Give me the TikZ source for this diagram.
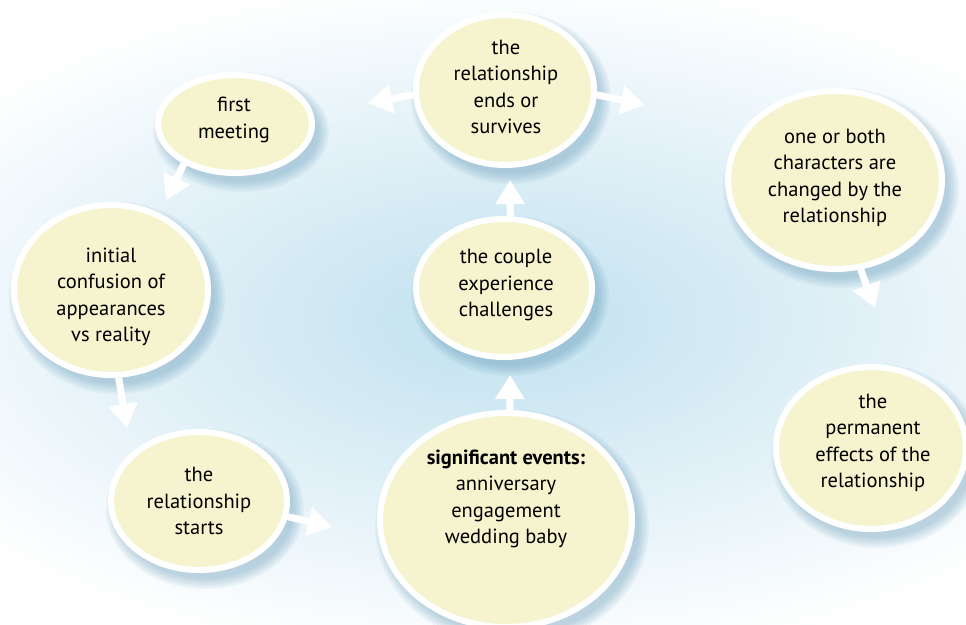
\documentclass[tikz,border=0pt]{standalone}
\usepackage{fontspec}
\setmainfont{PT Sans}
\usetikzlibrary{shapes.geometric,arrows.meta}
\definecolor{bgblue}{RGB}{192,225,239}
\definecolor{eyellow}{RGB}{245,244,206}
\definecolor{shblue}{RGB}{80,140,175}
\tikzset{
  bubble/.style={ellipse, draw=white, line width=6pt, fill=eyellow, inner sep=0pt},
  lbl/.style={align=center, font=\fontsize{20.5}{26.5}\selectfont, text=black, inner sep=0pt},
  blockarrow/.style={white, line width=7pt, -{Triangle[length=24pt,width=28pt]}},
}
\begin{document}
\begin{tikzpicture}[x=1pt,y=-1pt]
\useasboundingbox (0,0) rectangle (966,624);
\begin{scope}
\clip (0,0) rectangle (966,624);
\fill[white] (0,0) rectangle (966,624);
\shade[inner color=bgblue, outer color=white] (500,320) ellipse (690 and 345);
% soft shadows
\foreach \cx/\cy/\rx/\ry in {235/124/80/52, 505/90/92/78, 835/180/110/92, 111/290/100/88, 504/288/91/72, 199/501/91/72, 506/520/129/110, 871/448/98/84}{
  \foreach \k in {0,...,5}{
    \fill[shblue, opacity=0.065] (\cx+6,\cy+8) ellipse ({\rx+8-2*\k} and {\ry+8-2*\k});
  }
}
% bubbles
\foreach \cx/\cy/\rx/\ry/\nm in {235/124/80/52/e1, 505/90/92/78/e2, 835/180/110/92/e3, 111/290/100/88/e4, 504/288/91/72/e5, 199/501/91/72/e6, 506/520/129/110/e7, 871/448/98/84/e8}{
  \node[bubble, minimum width={(2*\rx-6)*1pt}, minimum height={(2*\ry-6)*1pt}] (\nm) at (\cx,\cy) {};
}
% labels
\node[lbl] (l1) at (234,120) {first\\meeting};
\node[lbl] (l2) at (506,87) {the\\relationship\\ends or\\survives};
\node[lbl] (l3) at (835,178) {one or both\\characters are\\changed by the\\relationship};
\node[lbl] (l4) at (111,297) {initial\\confusion of\\appearances\\vs reality};
\node[lbl] (l5) at (506,285) {the couple\\experience\\challenges};
\node[lbl] (l6) at (199,501) {the\\relationship\\starts};
\node[lbl] (l7) at (506,499) {\textbf{significant events:}\\anniversary\\engagement\\wedding baby};
\node[lbl] (l8) at (873,443) {the\\permanent\\effects of the\\relationship};
% arrow tips
\coordinate (t1) at (166,200);
\coordinate (t2) at (127,428);
\coordinate (t3) at (332,527);
\coordinate (t4) at (510,375);
\coordinate (t5) at (510,180);
\coordinate (t6) at (368,103);
\coordinate (t7) at (645,105);
\coordinate (t8) at (875,308);
\draw[blockarrow] (e1.218) -- (t1);
\draw[blockarrow] (e4.275) -- (t2);
\draw[blockarrow] (e6.350) -- (t3);
\draw[blockarrow] (e7.88) -- (t4);
\draw[blockarrow] (e5.85) -- (t5);
\draw[blockarrow] (e2.183) -- (t6);
\draw[blockarrow] (e2.357) -- (t7);
\draw[blockarrow] (e3.286) -- (t8);
\end{scope}
\end{tikzpicture}
\end{document}
